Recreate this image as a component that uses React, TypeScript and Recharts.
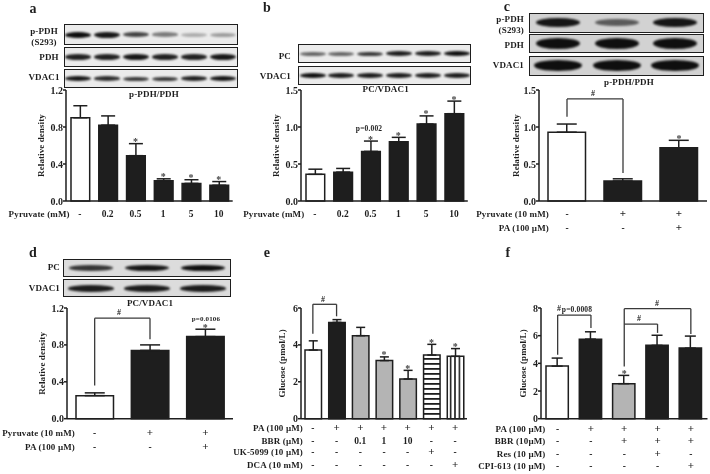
import { Bar, BarChart, Cell, ErrorBar, ReferenceDot, ReferenceLine, XAxis, YAxis } from 'recharts'

const FONT = '"Liberation Serif", serif'
const INK = '#1e1e1e'
const GREY = '#b4b4b4'

// panel a
const aCats = ['-', '0.2', '0.5', '1', '5', '10']
const aValues = [0.9, 0.82, 0.49, 0.22, 0.19, 0.17]
const aErrors = [0.13, 0.1, 0.13, 0.02, 0.04, 0.04]
const aFills = ['#fff', INK, INK, INK, INK, INK]
const aStars = ['0.5', '1', '5', '10']
const aTicks = [0, 0.4, 0.8, 1.2]

// panel b
const bCats = ['-', '0.2', '0.5', '1', '5', '10']
const bValues = [0.36, 0.39, 0.67, 0.8, 1.04, 1.18]
const bErrors = [0.07, 0.05, 0.14, 0.06, 0.11, 0.17]
const bFills = ['#fff', INK, INK, INK, INK, INK]
const bStars = ['0.5', '1', '5', '10']
const bTicks = [0, 0.5, 1, 1.5]

// panel c
const cCats = ['ctrl', 'pyr', 'pyr+pa']
const cValues = [0.93, 0.27, 0.72]
const cErrors = [0.11, 0.03, 0.1]
const cFills = ['#fff', INK, INK]
const cStars = ['pyr+pa']
const cTicks = [0, 0.5, 1, 1.5]

// panel d
const dCats = ['ctrl', 'pyr', 'pyr+pa']
const dValues = [0.25, 0.74, 0.89]
const dErrors = [0.03, 0.06, 0.08]
const dFills = ['#fff', INK, INK]
const dStars = ['pyr+pa']
const dTicks = [0, 0.4, 0.8, 1.2]

// panel e
const eCats = ['ctrl', 'pa', 'b0.1', 'b1', 'b10', 'uk', 'dca']
const eValues = [3.72, 5.22, 4.5, 3.15, 2.15, 3.45, 3.38]
const eErrors = [0.5, 0.15, 0.45, 0.2, 0.47, 0.58, 0.42]
const eFills = ['#fff', INK, GREY, GREY, GREY, 'url(#hstripes)', 'url(#vstripes)']
const eStars = ['b1', 'b10', 'uk', 'dca']
const eTicks = [0, 2, 4, 6]

// panel f
const fCats = ['ctrl', 'pa', 'bbr', 'res', 'cpi']
const fValues = [3.8, 5.75, 2.53, 5.3, 5.1]
const fErrors = [0.58, 0.53, 0.6, 0.73, 0.87]
const fFills = ['#fff', INK, GREY, INK, INK]
const fStars = ['bbr']
const fTicks = [0, 2, 4, 6, 8]

type Row = { label: string; cells: string[] }
type Bracket = { from: string; to: string; fromY: number; top: number; toY: number }

const rowsC: Row[] = [
  { label: 'Pyruvate (10 mM)', cells: ['-', '+', '+'] },
  { label: 'PA (100 µM)', cells: ['-', '-', '+'] },
]
const rowsE: Row[] = [
  { label: 'PA (100 µM)', cells: ['-', '+', '+', '+', '+', '+', '+'] },
  { label: 'BBR (µM)', cells: ['-', '-', '0.1', '1', '10', '-', '-'] },
  { label: 'UK-5099 (10 µM)', cells: ['-', '-', '-', '-', '-', '+', '-'] },
  { label: 'DCA (10 mM)', cells: ['-', '-', '-', '-', '-', '-', '+'] },
]
const rowsF: Row[] = [
  { label: 'PA (100 µM)', cells: ['-', '+', '+', '+', '+'] },
  { label: 'BBR (10µM)', cells: ['-', '-', '+', '+', '+'] },
  { label: 'Res (10 µM)', cells: ['-', '-', '-', '+', '-'] },
  { label: 'CPI-613 (10 µM)', cells: ['-', '-', '-', '-', '+'] },
]

const cBrackets: Bracket[] = [{ from: 'ctrl', to: 'pyr', fromY: 1.14, top: 1.38, toY: 0.38 }]
const dBrackets: Bracket[] = [{ from: 'ctrl', to: 'pyr', fromY: 0.36, top: 1.09, toY: 0.86 }]
const eBrackets: Bracket[] = [{ from: 'ctrl', to: 'pa', fromY: 4.6, top: 6.2, toY: 5.55 }]
const fBrackets: Bracket[] = [
  { from: 'ctrl', to: 'pa', fromY: 4.62, top: 7.49, toY: 6.55 },
  { from: 'bbr', to: 'cpi', fromY: 3.78, top: 7.95, toY: 6.12 },
  { from: 'bbr', to: 'res', fromY: 6.84, top: 6.84, toY: 6.2 },
]

const LEFT_GUTTER = 80
const TOP_GUTTER = 25
const XAXIS_H = 56

type PanelProps = {
  x0: number
  x1: number
  yTop: number
  yBottom: number
  cats: string[]
  values: number[]
  errors: number[]
  fills: string[]
  stars: string[]
  ticks: number[]
  digits: number
  yLabel: string
  yLabelDist: number
  barSize: number
  capWidth: number
  rows: Row[]
  rowYs: number[]    // row baselines, px below the x axis
  labelEnd: number   // page x where the row labels stop
  brackets?: Bracket[]
}

function Panel(p: PanelProps) {
  const data = p.cats.map((name, i) => ({ name, value: p.values[i], err: [0, p.errors[i]] }))
  const plotW = p.x1 - p.x0
  const plotH = p.yBottom - p.yTop
  const width = LEFT_GUTTER + plotW + 4
  const height = TOP_GUTTER + plotH + XAXIS_H

  const tick = (t: any) => {
    const i = t.index
    const firstCenter = p.x0 + plotW / p.cats.length / 2
    return (
      <g fontFamily={FONT} fontWeight={700} fontSize={9} fill={INK}>
        {p.rows.map((r, ri) => {
          const y = t.y + p.rowYs[ri] - 8
          return (
            <g key={r.label}>
              <text x={t.x} y={y} textAnchor="middle" fontSize={r.cells[i] === '+' ? 11 : 9.5}>{r.cells[i]}</text>
              {i === 0 && (
                <text x={t.x - (firstCenter - p.labelEnd)} y={y} textAnchor="end" letterSpacing={0.15}>{r.label}</text>
              )}
            </g>
          )
        })}
      </g>
    )
  }

  return (
    <div style={{ position: 'absolute', left: p.x0 - LEFT_GUTTER, top: p.yTop - TOP_GUTTER }}>
      <BarChart
        width={width}
        height={height}
        data={data}
        margin={{ top: TOP_GUTTER, right: 4, bottom: 0, left: 0 }}
        barSize={p.barSize}
      >
        <defs>
          <pattern id="hstripes" width="4" height="5" patternUnits="userSpaceOnUse">
            <rect width="4" height="5" fill="#fff" />
            <rect width="4" height="1.8" fill={INK} />
          </pattern>
          <pattern id="vstripes" width="4.4" height="4" patternUnits="userSpaceOnUse">
            <rect width="4.4" height="4" fill="#fff" />
            <rect width="1.6" height="4" fill={INK} />
          </pattern>
        </defs>
        <XAxis
          dataKey="name"
          interval={0}
          height={XAXIS_H}
          tickLine={false}
          axisLine={{ stroke: INK, strokeWidth: 1.5 }}
          tick={tick}
        />
        <YAxis
          width={LEFT_GUTTER}
          domain={[0, p.ticks[p.ticks.length - 1]]}
          ticks={p.ticks}
          interval={0}
          tickSize={3}
          tickMargin={0}
          tickFormatter={(v: number) => v.toFixed(p.digits)}
          tick={{ fill: INK, fontSize: 10, fontWeight: 700, fontFamily: FONT }}
          tickLine={{ stroke: INK, strokeWidth: 1.5 }}
          axisLine={{ stroke: INK, strokeWidth: 1.5 }}
          label={{
            value: p.yLabel,
            angle: -90,
            position: 'insideLeft',
            offset: LEFT_GUTTER - p.yLabelDist,
            style: { textAnchor: 'middle', fill: INK, fontSize: 9, fontWeight: 700, fontFamily: FONT, letterSpacing: 0.1 },
          }}
        />
        <Bar dataKey="value" stroke={INK} strokeWidth={1.5} isAnimationActive={false}>
          {p.fills.map((f, i) => (
            <Cell key={i} fill={f} />
          ))}
          <ErrorBar dataKey="err" direction="y" width={p.capWidth} stroke={INK} strokeWidth={1.5} isAnimationActive={false} />
        </Bar>
        {(p.brackets ?? []).flatMap((b, i) => [
          <ReferenceLine key={`${i}l`} ifOverflow="visible" stroke="#3a3a3a" strokeWidth={1.3}
            segment={[{ x: b.from, y: b.fromY }, { x: b.from, y: b.top }]} />,
          <ReferenceLine key={`${i}t`} ifOverflow="visible" stroke="#3a3a3a" strokeWidth={1.3}
            segment={[{ x: b.from, y: b.top }, { x: b.to, y: b.top }]} />,
          <ReferenceLine key={`${i}r`} ifOverflow="visible" stroke="#3a3a3a" strokeWidth={1.3}
            segment={[{ x: b.to, y: b.top }, { x: b.to, y: b.toY }]} />,
        ])}
        {p.stars.map((s) => (
          <ReferenceDot
            key={s}
            x={s}
            y={p.values[p.cats.indexOf(s)] + p.errors[p.cats.indexOf(s)]}
            r={0}
            ifOverflow="visible"
            label={{ value: '*', position: 'top', offset: -1.5, fill: '#444', fontSize: 10, fontFamily: FONT, fontWeight: 700 }}
          />
        ))}
      </BarChart>
    </div>
  )
}

type TProps = { x: number; y: number; anchor?: 'start' | 'middle' | 'end'; size?: number; children: string }

// text placed by its vertical centre; x is its left, middle or right edge
function T({ x, y, anchor = 'middle', size = 9, children }: TProps) {
  const shift = anchor === 'middle' ? '-50%' : anchor === 'end' ? '-100%' : '0'
  return (
    <div
      style={{
        position: 'absolute',
        left: x,
        top: y,
        transform: `translate(${shift}, -50%)`,
        whiteSpace: 'nowrap',
        fontFamily: FONT,
        fontWeight: 700,
        fontSize: size,
        letterSpacing: 0.15,
        lineHeight: 1,
        color: INK,
      }}
    >
      {children}
    </div>
  )
}

type BlotProps = { x0: number; x1: number; y0: number; y1: number; strength: number[]; bandW: number; bandH: number; bg?: string }

function Blot({ x0, x1, y0, y1, strength, bandW, bandH, bg = '#ebebeb' }: BlotProps) {
  const lane = (x1 - x0) / strength.length
  return (
    <div
      style={{
        position: 'absolute',
        left: x0,
        top: y0,
        width: x1 - x0,
        height: y1 - y0,
        boxSizing: 'border-box',
        border: `1.3px solid ${INK}`,
        background: bg,
        overflow: 'hidden',
      }}
    >
      {strength.map((s, i) => (
        <div
          key={i}
          style={{
            position: 'absolute',
            left: lane * i + (lane - bandW) / 2 - 1,
            top: (y1 - y0) / 2 - (bandH * (0.55 + s * 0.45)) / 2 - 1,
            width: bandW,
            height: bandH * (0.55 + s * 0.45),
            borderRadius: '50%',
            background: '#0c0c0c',
            opacity: s,
            filter: 'blur(1px)',
          }}
        />
      ))}
    </div>
  )
}

export default function App() {
  return (
    <div style={{ position: 'absolute', left: 0, top: 0, width: 710, height: 474, overflow: 'hidden', background: '#fff', filter: 'blur(0.35px)' }}>
      <Panel x0={66.3} x1={233} yTop={90} yBottom={201} cats={aCats} values={aValues} errors={aErrors} fills={aFills} stars={aStars}
        ticks={aTicks} digits={1} yLabel="Relative density" yLabelDist={25} barSize={18.7} capWidth={7}
        rows={[{ label: 'Pyruvate (mM)', cells: aCats }]} rowYs={[16]} labelEnd={70} />
      <Panel x0={300.7} x1={467.5} yTop={90} yBottom={201} cats={bCats} values={bValues} errors={bErrors} fills={bFills} stars={bStars}
        ticks={bTicks} digits={1} yLabel="Relative density" yLabelDist={25} barSize={18.7} capWidth={7}
        rows={[{ label: 'Pyruvate (mM)', cells: bCats }]} rowYs={[16]} labelEnd={304} />
      <Panel x0={539} x1={707} yTop={90} yBottom={201} cats={cCats} values={cValues} errors={cErrors} fills={cFills} stars={cStars}
        ticks={cTicks} digits={1} yLabel="Relative density" yLabelDist={23.5} barSize={37.5} capWidth={10}
        rows={rowsC} rowYs={[16, 30]} labelEnd={549} brackets={cBrackets} />
      <Panel x0={67} x1={233} yTop={308.3} yBottom={419} cats={dCats} values={dValues} errors={dErrors} fills={dFills} stars={dStars}
        ticks={dTicks} digits={1} yLabel="Relative density" yLabelDist={25.5} barSize={37.5} capWidth={10}
        rows={rowsC} rowYs={[17, 31.5]} labelEnd={75} brackets={dBrackets} />
      <Panel x0={301} x1={467} yTop={308.3} yBottom={419} cats={eCats} values={eValues} errors={eErrors} fills={eFills} stars={eStars}
        ticks={eTicks} digits={0} yLabel="Glucose (pmol/L)" yLabelDist={19.5} barSize={16.5} capWidth={4.5}
        rows={rowsE} rowYs={[12.5, 25, 36.5, 49]} labelEnd={303} brackets={eBrackets} />
      <Panel x0={540.5} x1={707} yTop={308.3} yBottom={419} cats={fCats} values={fValues} errors={fErrors} fills={fFills} stars={fStars}
        ticks={fTicks} digits={0} yLabel="Glucose (pmol/L)" yLabelDist={18} barSize={22.3} capWidth={5.5}
        rows={rowsF} rowYs={[13, 25.5, 38, 50.5]} labelEnd={545} brackets={fBrackets} />

      <T x={33} y={9} size={14}>a</T>
      <T x={267} y={8} size={14}>b</T>
      <T x={507} y={7} size={14}>c</T>
      <T x={33} y={253} size={14}>d</T>
      <T x={267} y={253} size={14}>e</T>
      <T x={508} y={253} size={14}>f</T>

      <Blot x0={64} x1={237.7} y0={24.3} y1={45} strength={[1, 0.95, 0.75, 0.5, 0.28, 0.35]} bandW={26} bandH={6} />
      <Blot x0={64} x1={237.7} y0={47.3} y1={66.7} strength={[0.9, 0.9, 0.95, 0.9, 0.9, 0.95]} bandW={26} bandH={6} />
      <Blot x0={64} x1={237.7} y0={69.3} y1={88.3} strength={[0.95, 0.85, 0.8, 0.8, 0.9, 0.95]} bandW={26} bandH={5} />
      <T x={44} y={31}>p-PDH</T>
      <T x={44} y={41.5}>(S293)</T>
      <T x={49} y={57}>PDH</T>
      <T x={44} y={77}>VDAC1</T>
      <T x={154} y={94}>p-PDH/PDH</T>

      <Blot x0={298.3} x1={471} y0={44.3} y1={63.3} strength={[0.6, 0.6, 0.8, 0.92, 0.92, 0.98]} bandW={26} bandH={5} />
      <Blot x0={298.3} x1={471} y0={66} y1={85} strength={[0.98, 0.92, 0.92, 0.92, 0.92, 0.92]} bandW={26} bandH={5} />
      <T x={291} y={55.7} anchor="end">PC</T>
      <T x={291} y={75.7} anchor="end">VDAC1</T>
      <T x={385.7} y={89}>PC/VDAC1</T>
      <T x={369} y={129} size={7.5}>p=0.002</T>

      <Blot x0={529.3} x1={704.3} y0={12.7} y1={32.7} strength={[0.95, 0.6, 0.95]} bandW={44} bandH={9} bg="#d2d2d2" />
      <Blot x0={529.3} x1={704.3} y0={34} y1={53.3} strength={[0.98, 0.98, 0.98]} bandW={44} bandH={11} bg="#d2d2d2" />
      <Blot x0={529.3} x1={704.3} y0={55.7} y1={76} strength={[0.98, 0.98, 0.98]} bandW={48} bandH={11} bg="#d2d2d2" />
      <T x={524} y={19} anchor="end">p-PDH</T>
      <T x={524} y={30} anchor="end">(S293)</T>
      <T x={524} y={45} anchor="end">PDH</T>
      <T x={524} y={65} anchor="end">VDAC1</T>
      <T x={629} y={82}>p-PDH/PDH</T>
      <T x={593} y={94} size={8}>#</T>

      <Blot x0={62.7} x1={231} y0={259} y1={277.3} strength={[0.8, 0.95, 0.98]} bandW={44} bandH={6} bg="#dcdcdc" />
      <Blot x0={62.7} x1={231} y0={279.3} y1={297.3} strength={[0.92, 0.92, 0.92]} bandW={46} bandH={7} bg="#dcdcdc" />
      <T x={60} y={267} anchor="end">PC</T>
      <T x={60} y={288} anchor="end">VDAC1</T>
      <T x={150} y={303}>PC/VDAC1</T>
      <T x={119} y={313} size={8}>#</T>
      <T x={206} y={318.5} size={7}>p=0.0106</T>

      <T x={323} y={300} size={8}>#</T>

      <T x={559} y={309} size={8}>#</T>
      <T x={577} y={309.5} size={7.5}>p=0.0008</T>
      <T x={657} y={304} size={8}>#</T>
      <T x={639} y={318.7} size={8}>#</T>
    </div>
  )
}
